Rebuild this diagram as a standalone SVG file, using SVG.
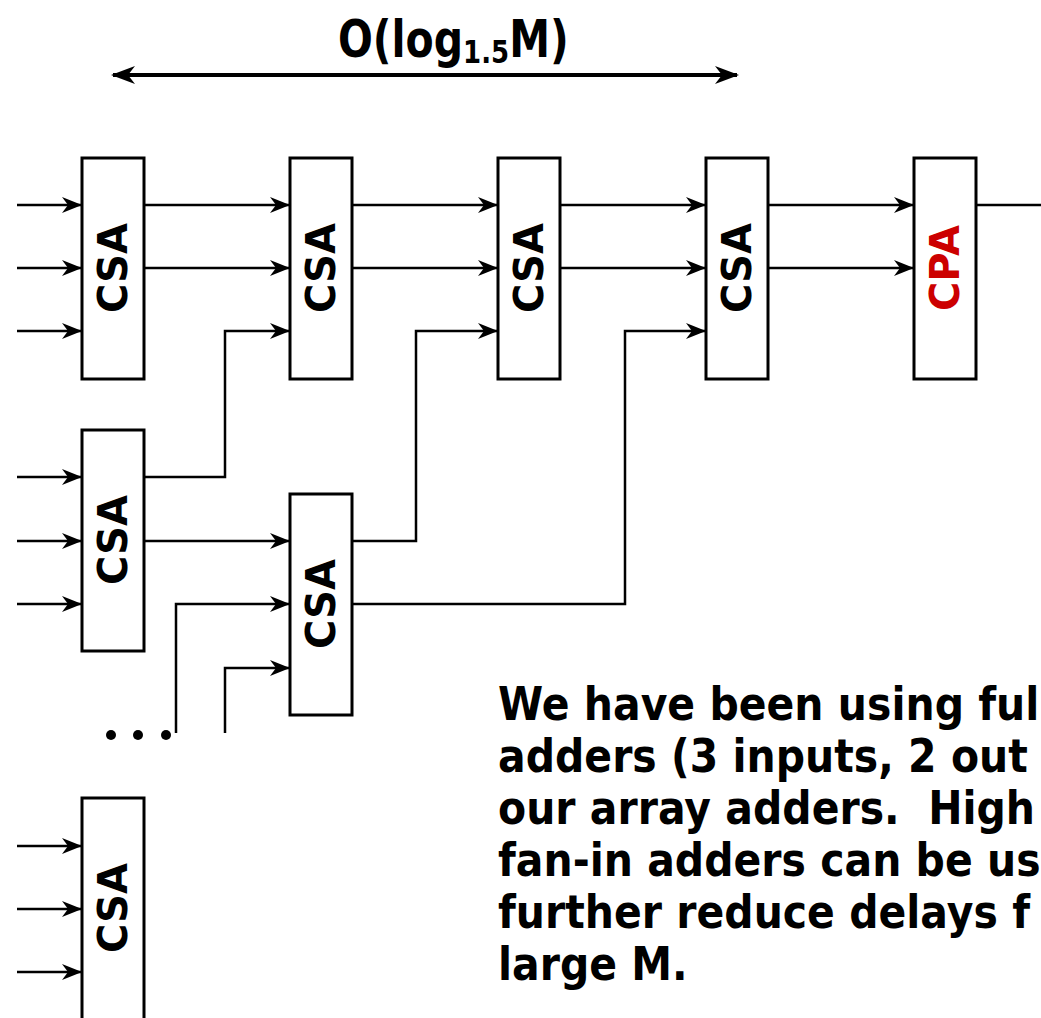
<svg xmlns="http://www.w3.org/2000/svg" width="1041" height="1018" viewBox="0 0 1041 1018">
<defs>
<marker id="ah" viewBox="0 0 20 16" markerWidth="20" markerHeight="16" refX="20" refY="8" orient="auto" markerUnits="userSpaceOnUse">
<path d="M0,0 L20,8 L0,16 L6,8 z" fill="#000"/>
</marker>
<marker id="ahb" viewBox="0 0 24 18" markerWidth="24" markerHeight="18" refX="22" refY="9" orient="auto-start-reverse" markerUnits="userSpaceOnUse">
<path d="M0,0 L24,9 L0,18 L7,9 z" fill="#000"/>
</marker>
</defs>
<style>
.box{fill:#fff;stroke:#000;stroke-width:3}
.lbl{font-family:"DejaVu Sans",sans-serif;font-weight:bold;font-size:40px;text-anchor:middle;dominant-baseline:central}
.w{fill:none;stroke:#000;stroke-width:2.5}
.a{marker-end:url(#ah)}
.txt{font-family:"DejaVu Sans",sans-serif;font-weight:bold;font-size:41px;fill:#000}
</style>
<rect width="1041" height="1018" fill="#fff"/>
<g id="title">
<text class="txt" transform="translate(338,57) scale(1,1.25)" font-size="40">O(log<tspan font-size="26" dy="5">1.5</tspan><tspan dy="-5">M)</tspan></text>
<line x1="113" y1="75" x2="737" y2="75" stroke="#000" stroke-width="4" marker-start="url(#ahb)" marker-end="url(#ahb)"/>
</g>
<g id="connectors">
<path class="w a" d="M17,205 H82"/>
<path class="w a" d="M17,268 H82"/>
<path class="w a" d="M17,331 H82"/>
<path class="w a" d="M17,477 H82"/>
<path class="w a" d="M17,541 H82"/>
<path class="w a" d="M17,604 H82"/>
<path class="w a" d="M17,846 H82"/>
<path class="w a" d="M17,909 H82"/>
<path class="w a" d="M17,972 H82"/>
<path class="w a" d="M144,205 H290"/>
<path class="w a" d="M144,268 H290"/>
<path class="w a" d="M352,205 H498"/>
<path class="w a" d="M352,268 H498"/>
<path class="w a" d="M560,205 H706"/>
<path class="w a" d="M560,268 H706"/>
<path class="w a" d="M768,205 H914"/>
<path class="w a" d="M768,268 H914"/>
<path class="w" d="M976,205 H1041"/>
<path class="w a" d="M144,477 H225 V331 H290"/>
<path class="w a" d="M144,541 H290"/>
<path class="w a" d="M176,733 V604 H290"/>
<path class="w a" d="M225,733 V668 H290"/>
<path class="w a" d="M352,541 H416 V331 H498"/>
<path class="w a" d="M352,604 H625 V331 H706"/>
</g>
<g id="csa1"><rect class="box" x="82" y="158" width="62" height="221"/><text class="lbl" x="113" y="268" transform="rotate(-90 113 268)">CSA</text></g>
<g id="csa2"><rect class="box" x="290" y="158" width="62" height="221"/><text class="lbl" x="321" y="268" transform="rotate(-90 321 268)">CSA</text></g>
<g id="csa3"><rect class="box" x="498" y="158" width="62" height="221"/><text class="lbl" x="529" y="268" transform="rotate(-90 529 268)">CSA</text></g>
<g id="csa4"><rect class="box" x="706" y="158" width="62" height="221"/><text class="lbl" x="737" y="268" transform="rotate(-90 737 268)">CSA</text></g>
<g id="cpa"><rect class="box" x="914" y="158" width="62" height="221"/><text class="lbl" x="945" y="268" fill="#cc0000" transform="rotate(-90 945 268)">CPA</text></g>
<g id="csa5"><rect class="box" x="82" y="430" width="62" height="221"/><text class="lbl" x="113" y="540" transform="rotate(-90 113 540)">CSA</text></g>
<g id="csa6"><rect class="box" x="290" y="494" width="62" height="221"/><text class="lbl" x="321" y="604" transform="rotate(-90 321 604)">CSA</text></g>
<g id="csa7"><rect class="box" x="82" y="798" width="62" height="240"/><text class="lbl" x="113" y="908" transform="rotate(-90 113 908)">CSA</text></g>
<g id="dots"><circle cx="111" cy="735" r="5"/><circle cx="138" cy="735" r="5"/><circle cx="166" cy="735" r="5"/></g>
<g id="note">
<text class="txt" transform="translate(498,720) scale(1,1.12)">We have been using ful</text>
<text class="txt" transform="translate(498,772) scale(1,1.12)">adders (3 inputs, 2 out</text>
<text class="txt" transform="translate(498,824) scale(1,1.12)" xml:space="preserve">our array adders.  High</text>
<text class="txt" transform="translate(498,876) scale(1,1.12)">fan-in adders can be us</text>
<text class="txt" transform="translate(498,928) scale(1,1.12)">further reduce delays f</text>
<text class="txt" transform="translate(498,980) scale(1,1.12)">large M.</text>
</g>
</svg>
